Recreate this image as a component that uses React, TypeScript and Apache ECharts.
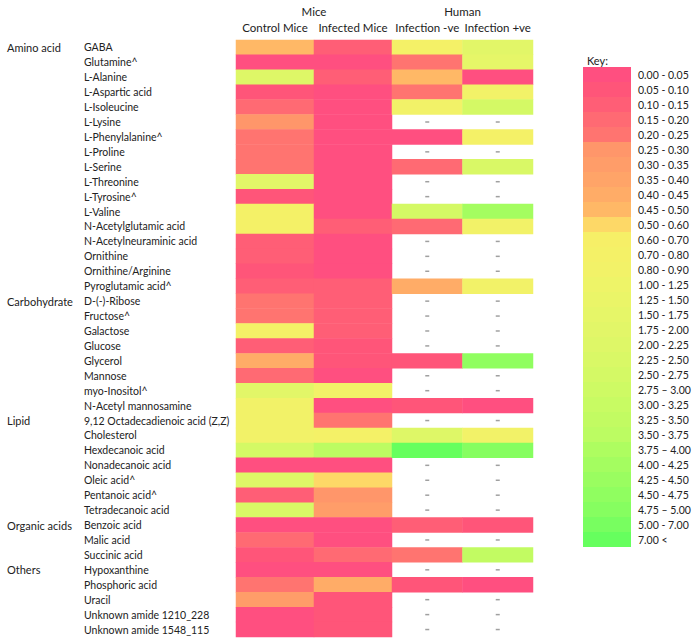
import React, { useEffect, useRef } from "react";
import * as echarts from "echarts";

const compounds = [
  "GABA", "Glutamine^", "L-Alanine", "L-Aspartic acid", "L-Isoleucine", "L-Lysine",
  "L-Phenylalanine^", "L-Proline", "L-Serine", "L-Threonine", "L-Tyrosine^", "L-Valine",
  "N-Acetylglutamic acid", "N-Acetylneuraminic acid", "Ornithine", "Ornithine/Arginine",
  "Pyroglutamic acid^", "D-(-)-Ribose", "Fructose^", "Galactose", "Glucose", "Glycerol",
  "Mannose", "myo-Inositol^", "N-Acetyl mannosamine", "9,12 Octadecadienoic acid (Z,Z)",
  "Cholesterol", "Hexdecanoic acid", "Nonadecanoic acid", "Oleic acid^", "Pentanoic acid^",
  "Tetradecanoic acid", "Benzoic acid", "Malic acid", "Succinic acid", "Hypoxanthine",
  "Phosphoric acid", "Uracil", "Unknown amide 1210_228", "Unknown amide 1548_115",
];
const groupNames = ["Amino acid", "Carbohydrate", "Lipid", "Organic acids", "Others"];
const groupSizes = [17, 8, 7, 3, 5];

const miceColumns = ["Control Mice", "Infected Mice"];
const humanColumns = ["Infection -ve", "Infection +ve"];

const controlMice = [
  0.47, 0.04, 2.0, 0.07, 0.18, 0.28, 0.2, 0.2, 0.2, 1.8, 0.08, 0.7, 0.7, 0.12, 0.12, 0.06,
  0.12, 0.22, 0.22, 0.7, 0.1, 0.43, 0.17, 1.8, 0.85, 0.85, 0.85, 2.6, 0.02, 2.0, 0.12, 2.4,
  0.03, 0.18, 0.08, 0.02, 0.22, 0.3, 0.04, 0.04,
];
const infectedMice = [
  0.12, 0.02, 0.12, 0.02, 0.02, 0.02, 0.02, 0.02, 0.02, 0.02, 0.02, 0.02, 0.12, 0.02, 0.02,
  0.02, 0.12, 0.12, 0.12, 0.12, 0.07, 0.07, 0.02, 0.8, 0.03, 0.22, 0.75, 3.7, 0.03, 0.55,
  0.27, 0.32, 0.03, 0.03, 0.15, 0.03, 0.42, 0.05, 0.05, 0.05,
];
const infectionNeg: (number | null)[] = [
  0.75, 0.22, 0.47, 0.22, 0.85, null, 0.02, null, 0.17, null, null, 2.6, 0.17, null, null,
  null, 0.42, null, null, null, null, 0.07, null, null, 0.07, null, 2.0, 7.5, null, null,
  null, null, 0.12, null, 0.22, null, 0.08, null, null, null,
];
const infectionPos: (number | null)[] = [
  1.8, 1.6, 0.03, 0.85, 2.6, null, 0.75, null, 2.4, null, null, 4.1, 0.85, null, null, null,
  0.8, null, null, null, null, 4.6, null, null, 0.03, null, 0.85, 4.9, null, null, null,
  null, 0.08, null, 3.3, null, 0.04, null, null, null,
];

const keyLower = [
  0, 0.05, 0.1, 0.15, 0.2, 0.25, 0.3, 0.35, 0.4, 0.45, 0.5, 0.6, 0.7, 0.8, 1.0, 1.25, 1.5,
  1.75, 2.0, 2.25, 2.5, 2.75, 3.0, 3.25, 3.5, 3.75, 4.0, 4.25, 4.5, 4.75, 5.0, 7.0,
];
const keyUpper = [
  0.05, 0.1, 0.15, 0.2, 0.25, 0.3, 0.35, 0.4, 0.45, 0.5, 0.6, 0.7, 0.8, 0.9, 1.25, 1.5, 1.75,
  2.0, 2.25, 2.5, 2.75, 3.0, 3.25, 3.5, 3.75, 4.0, 4.25, 4.5, 4.75, 5.0, 7.0, null,
];
const keyLabels = [
  "0.00 - 0.05", "0.05 - 0.10", "0.10 - 0.15", "0.15 - 0.20", "0.20 - 0.25", "0.25 - 0.30",
  "0.30 - 0.35", "0.35 - 0.40", "0.40 - 0.45", "0.45 - 0.50", "0.50 - 0.60", "0.60 - 0.70",
  "0.70 - 0.80", "0.80 - 0.90", "1.00 - 1.25", "1.25 - 1.50", "1.50 - 1.75", "1.75 - 2.00",
  "2.00 - 2.25", "2.25 - 2.50", "2.50 - 2.75", "2.75 \u2013 3.00", "3.00 - 3.25",
  "3.25 - 3.50", "3.50 - 3.75", "3.75 \u2013 4.00", "4.00 - 4.25", "4.25 - 4.50",
  "4.50 - 4.75", "4.75 \u2013 5.00", "5.00 - 7.00", "7.00 <",
];
const keyColors = [
  "#ff4f80", "#ff5579", "#ff5e76", "#ff6a73", "#ff7470", "#ff966a", "#ff9d69", "#ffa468",
  "#ffac67", "#ffb866", "#fdd867", "#f6ef67", "#f4f167", "#f2f268", "#eef468", "#eaf568",
  "#e6f668", "#e2f668", "#def767", "#d9f866", "#d4f965", "#cefa64", "#c8fb63", "#c2fb62",
  "#bcfc62", "#aefd60", "#a4fd60", "#9afd60", "#90fe60", "#86fe60", "#78fe60", "#66ff5e",
];

const FONT = "Lato, 'Liberation Sans', sans-serif";
const TXT = "#222";

export default function App() {
  const ref = useRef<HTMLDivElement>(null);
  useEffect(() => {
    document.body.style.margin = "0";
    const chart = echarts.init(ref.current!, null, { renderer: "svg" });

    const groupLabels: string[] = [];
    groupNames.forEach((g, gi) => {
      for (let k = 0; k < groupSizes[gi]; k++) groupLabels.push(k === 0 ? g : "");
    });

    const miceData: any[] = [];
    compounds.forEach((_, i) => {
      miceData.push([0, i, controlMice[i]]);
      miceData.push([1, i, infectedMice[i]]);
    });
    const humanData: any[] = [];
    const missing: any[] = [];
    compounds.forEach((_, i) => {
      [infectionNeg, infectionPos].forEach((arr, j) => {
        const v = arr[i];
        if (v === null) missing.push([j, i]);
        else humanData.push([j, i, v]);
      });
    });

    const pieces = keyLower.map((lo, i) => {
      const p: any = { gte: lo, label: keyLabels[i], color: keyColors[i] };
      if (keyUpper[i] !== null) p.lt = keyUpper[i];
      return p;
    });

    const hiddenAxisBits = {
      axisLine: { show: false },
      axisTick: { show: false },
      splitLine: { show: false },
    };
    const lbl = (fs: number) => ({ fontSize: fs, color: TXT, fontFamily: FONT });

    chart.setOption({
      animation: false,
      textStyle: { fontFamily: FONT },
      title: {
        text: "Key:",
        left: 587,
        top: 55,
        padding: 0,
        textStyle: { ...lbl(11), fontWeight: "normal" },
      },
      grid: [
        { left: 236, top: 37, width: 156, height: 600 },
        { left: 392, top: 37, width: 141, height: 600 },
      ],
      xAxis: [
        {
          type: "category",
          gridIndex: 0,
          position: "top",
          data: miceColumns,
          name: "Mice",
          nameLocation: "middle",
          nameGap: 21,
          nameTextStyle: lbl(11.5),
          axisLabel: { ...lbl(11.5), margin: 6, interval: 0 },
          ...hiddenAxisBits,
        },
        {
          type: "category",
          gridIndex: 1,
          position: "top",
          data: humanColumns,
          name: "Human",
          nameLocation: "middle",
          nameGap: 21,
          nameTextStyle: lbl(11.5),
          axisLabel: { ...lbl(11.5), margin: 6, interval: 0 },
          ...hiddenAxisBits,
        },
      ],
      yAxis: [
        {
          type: "category",
          gridIndex: 0,
          position: "left",
          inverse: true,
          data: compounds,
          axisLabel: { ...lbl(10.5), align: "left", margin: 152, interval: 0 },
          ...hiddenAxisBits,
        },
        {
          type: "category",
          gridIndex: 0,
          position: "left",
          offset: 0,
          inverse: true,
          data: groupLabels,
          axisLabel: { ...lbl(11), align: "left", margin: 229, interval: 0 },
          ...hiddenAxisBits,
        },
        {
          type: "category",
          gridIndex: 1,
          inverse: true,
          data: compounds,
          axisLabel: { show: false },
          ...hiddenAxisBits,
        },
      ],
      visualMap: {
        type: "piecewise",
        seriesIndex: [0, 1],
        pieces,
        left: 583,
        top: 67,
        padding: 0,
        orient: "vertical",
        inverse: true,
        align: "left",
        itemWidth: 48,
        itemHeight: 15,
        itemGap: 0,
        itemSymbol: "rect",
        textGap: 7,
        hoverLink: false,
        selectedMode: false,
        textStyle: lbl(10.5),
        outOfRange: { color: "#f2f268" },
      },
      series: [
        {
          type: "heatmap",
          xAxisIndex: 0,
          yAxisIndex: 0,
          data: miceData,
          itemStyle: { borderWidth: 0 },
        },
        {
          type: "heatmap",
          xAxisIndex: 1,
          yAxisIndex: 2,
          data: humanData,
          itemStyle: { borderWidth: 0 },
        },
        {
          type: "scatter",
          xAxisIndex: 1,
          yAxisIndex: 2,
          data: missing,
          symbol: "rect",
          symbolSize: [4, 1.5],
          itemStyle: { color: "#888" },
        },
      ],
    });
    return () => chart.dispose();
  }, []);
  return <div ref={ref} style={{ width: 694, height: 644 }} />;
}
